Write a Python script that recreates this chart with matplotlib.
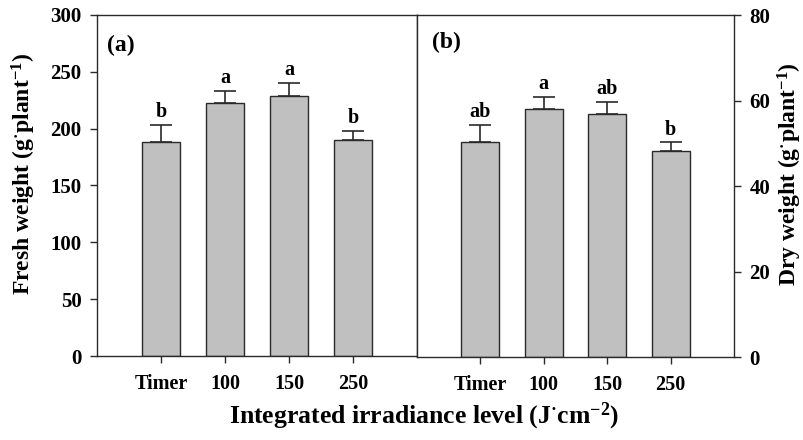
import numpy as np
import matplotlib
matplotlib.use("Agg")
import matplotlib.pyplot as plt

# шрифт как в оригинале (Times bold)
plt.rcParams["font.family"] = ["Liberation Serif", "DejaVu Serif"]
plt.rcParams["font.weight"] = "bold"
plt.rcParams["mathtext.fontset"] = "custom"
plt.rcParams["mathtext.rm"] = "Liberation Serif:bold"
plt.rcParams["mathtext.default"] = "rm"

# данные
categories = ["Timer", "100", "150", "250"]
fresh_weight = [188.5, 223, 229, 190]
fresh_err = [15, 10.5, 11, 8]
fresh_letters = ["b", "a", "a", "b"]
dry_weight = [50.4, 58.1, 56.8, 48.3]
dry_err = [3.9, 2.8, 2.9, 1.9]
dry_letters = ["ab", "a", "ab", "b"]

W, H = 804, 440
fig = plt.figure(figsize=(W / 100, H / 100), dpi=100)

ax1 = fig.add_axes([97 / W, 1 - 356 / H, 320 / W, 341 / H])
ax2 = fig.add_axes([417 / W, 1 - 357 / H, 317 / W, 342 / H])

x = np.arange(len(categories))
edge = "#2a2a2a"


def draw_panel(ax, vals, errs, letters):
    ax.bar(x, vals, width=0.6, color="#c0c0c0", edgecolor=edge, linewidth=1.0, zorder=2)
    ax.errorbar(x, vals, yerr=[np.zeros(len(errs)), errs], fmt="none",
                ecolor=edge, elinewidth=1.2, capsize=8, capthick=1.2, zorder=1)
    for xi, v, e, t in zip(x, vals, errs, letters):
        ax.annotate(t, (xi, v + e), xytext=(0, 2), textcoords="offset points",
                    ha="center", va="bottom", fontsize=14.5, fontweight="bold")
    ax.set_xlim(-1, 4)
    ax.set_xticks(x)
    ax.set_xticklabels(categories)
    ax.tick_params(axis="x", direction="out", length=5, width=1, pad=8,
                   labelsize=14.5, color=edge)
    for s in ax.spines.values():
        s.set_color(edge)
        s.set_linewidth(1.0)


draw_panel(ax1, fresh_weight, fresh_err, fresh_letters)
draw_panel(ax2, dry_weight, dry_err, dry_letters)

ax1.set_ylim(0, 300)
ax1.set_yticks([0, 50, 100, 150, 200, 250, 300])
ax1.tick_params(axis="y", direction="out", length=5, width=1, pad=6,
                labelsize=15, color=edge)

ax2.set_ylim(0, 80)
ax2.set_yticks([0, 20, 40, 60, 80])
ax2.yaxis.tick_right()
ax2.tick_params(axis="y", direction="out", length=5, width=1, pad=6,
                labelsize=15, color=edge)

ax1.text(0.031, 0.912, "(a)", transform=ax1.transAxes, fontsize=17,
         fontweight="bold", ha="left", va="center")
ax2.text(0.047, 0.921, "(b)", transform=ax2.transAxes, fontsize=17,
         fontweight="bold", ha="left", va="center")

# подписи осей
fig.text(24 / W, 1 - 174 / H, "Fresh weight (g$^{\u00b7}$plant$^{-1}$)",
         rotation=90, ha="center", va="center", fontsize=17, fontweight="bold")
fig.text(790 / W, 1 - 174 / H, "Dry weight (g$^{\u00b7}$plant$^{-1}$)",
         rotation=90, ha="center", va="center", fontsize=17, fontweight="bold")
fig.text(424 / W, 1 - 416 / H, "Integrated irradiance level (J$^{\u00b7}$cm$^{-2}$)",
         ha="center", va="center", fontsize=18.5, fontweight="bold")

fig.savefig("out.png", dpi=100)
